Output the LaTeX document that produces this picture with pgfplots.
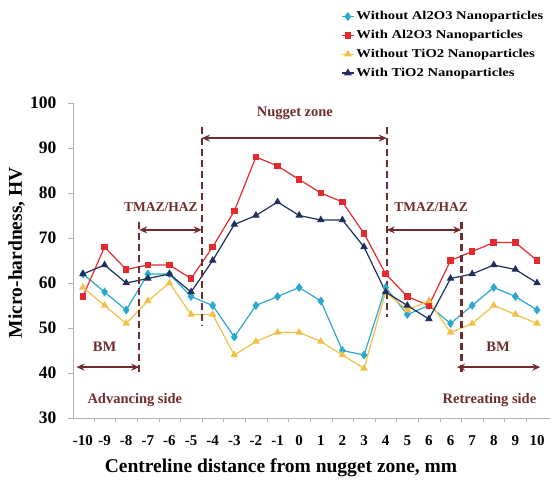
\documentclass[border=0pt]{standalone}
\usepackage{fontspec}
\setmainfont{Liberation Serif}
\newfontfamily\legfont[FakeStretch=1.22]{Liberation Serif}
\usepackage{pgfplots}
\pgfplotsset{compat=1.18}
\usetikzlibrary{arrows.meta}
\definecolor{cA}{HTML}{2AA8CE}
\definecolor{cB}{HTML}{E42A2E}
\definecolor{cC}{HTML}{F2C04A}
\definecolor{cD}{HTML}{1E2F5E}
\definecolor{ann}{HTML}{6E2C2C}
\begin{document}
\begin{tikzpicture}
\useasboundingbox (-73pt,-76pt) rectangle (480pt,418pt);
\begin{axis}[
  scale only axis, width=477pt, height=315pt,
  xmin=-0.46, xmax=21.6, ymin=30, ymax=100,
  axis x line*=bottom, axis y line*=left,
  axis line style={draw=gray!60, line width=0.7pt, -},
  clip=false,
  xtick={0,...,21},
  xticklabels={-10,-9,-8,-7,-6,-5,-4,-3,-2,-1,0,1,2,3,4,5,6,6,7,8,9,10},
  major x tick style={draw=none},
  minor xtick={0.5,1.5,...,20.5},
  minor x tick style={draw=gray!60},
  ytick={30,40,...,100},
  yticklabels={30,40,50,60,70,80,90,100},
  y tick style={draw=gray!60},
  tick align=outside, major tick length=5pt, minor tick length=4pt,
  xticklabel style={font=\bfseries\fontsize{15}{15}\selectfont, yshift=-9pt},
  yticklabel style={font=\bfseries\fontsize{17.5}{17.5}\selectfont, xshift=-8pt},
  xlabel={Centreline distance from nugget zone, mm},
  ylabel={Micro-hardness, HV},
  xlabel style={font=\bfseries\fontsize{19.5}{20}\selectfont, at={(axis description cs:0.436,-0.159)}, anchor=center},
  ylabel style={font=\bfseries\fontsize{19.5}{20}\selectfont, at={(axis description cs:-0.118,0.525)}, anchor=center},
  legend style={at={(axis description cs:0.562,1.297)}, anchor=north west, draw=none, fill=none,
    font=\legfont\bfseries\fontsize{12}{13}\selectfont, row sep=5pt, inner sep=0pt, cells={anchor=west}},
  legend image code/.code={\draw[mark repeat=2,mark phase=2,#1] plot coordinates {(0pt,0pt) (6pt,0pt) (12pt,0pt)};},
  every axis plot/.append style={line width=1.2pt},
]
\addplot[cA, mark=diamond*, mark size=3.5pt] coordinates {
(0,62)(1,58)(2,54)(3,62)(4,62)(5,57)(6,55)(7,48)(8,55)(9,57)(10,59)(11,56)(12,45)(13,44)(14,59)(15,53)(16,55)(17,51)(18,55)(19,59)(20,57)(21,54)};
\addlegendentry{Without Al2O3 Nanoparticles}
\addplot[cB, mark=square*, mark size=2.7pt] coordinates {
(0,57)(1,68)(2,63)(3,64)(4,64)(5,61)(6,68)(7,76)(8,88)(9,86)(10,83)(11,80)(12,78)(13,71)(14,62)(15,57)(16,55)(17,65)(18,67)(19,69)(20,69)(21,65)};
\addlegendentry{With Al2O3 Nanoparticles}
\addplot[cC, mark=triangle*, mark size=3.3pt] coordinates {
(0,59)(1,55)(2,51)(3,56)(4,60)(5,53)(6,53)(7,44)(8,47)(9,49)(10,49)(11,47)(12,44)(13,41)(14,58)(15,54)(16,56)(17,49)(18,51)(19,55)(20,53)(21,51)};
\addlegendentry{Without TiO2 Nanoparticles}
\addplot[cD, mark=triangle*, mark size=3.3pt] coordinates {
(0,62)(1,64)(2,60)(3,61)(4,62)(5,58)(6,65)(7,73)(8,75)(9,78)(10,75)(11,74)(12,74)(13,68)(14,58)(15,55)(16,52)(17,61)(18,62)(19,64)(20,63)(21,60)};
\addlegendentry{With TiO2 Nanoparticles}
% annotations
\begin{scope}[ann, line width=2.4pt, dash pattern=on 7pt off 4pt]
\draw (axis cs:2.6,73.6) -- (axis cs:2.6,40.2);
\draw (axis cs:5.5,94.7) -- (axis cs:5.5,50.5);
\draw (axis cs:14.05,94.7) -- (axis cs:14.05,52.4);
\draw (axis cs:17.5,73.6) -- (axis cs:17.5,40.2);
\end{scope}
\begin{scope}[ann, line width=2.2pt, {Stealth[length=8pt,width=7pt]}-{Stealth[length=8pt,width=7pt]}]
\draw (axis cs:5.5,92.2) -- (axis cs:14.05,92.2);
\draw (axis cs:2.6,71.8) -- (axis cs:5.5,71.8);
\draw (axis cs:14.05,71.8) -- (axis cs:17.5,71.8);
\draw (axis cs:-0.3,41.3) -- (axis cs:2.6,41.3);
\draw (axis cs:17.3,41.3) -- (axis cs:21.15,41.3);
\end{scope}
\begin{scope}[every node/.style={text=ann, font=\bfseries\fontsize{14.5}{14.5}\selectfont}]
\node at (axis cs:9.8,97.8) {Nugget zone};
\node[font=\bfseries\fontsize{13.5}{13.5}\selectfont] at (axis cs:3.6,76.9) {TMAZ/HAZ};
\node[font=\bfseries\fontsize{13.5}{13.5}\selectfont] at (axis cs:16.1,76.9) {TMAZ/HAZ};
\node at (axis cs:1.0,45.8) {BM};
\node at (axis cs:19.2,45.8) {BM};
\node at (axis cs:2.4,34) {Advancing side};
\node at (axis cs:18.8,34) {Retreating side};
\end{scope}
\end{axis}
\end{tikzpicture}
\end{document}
